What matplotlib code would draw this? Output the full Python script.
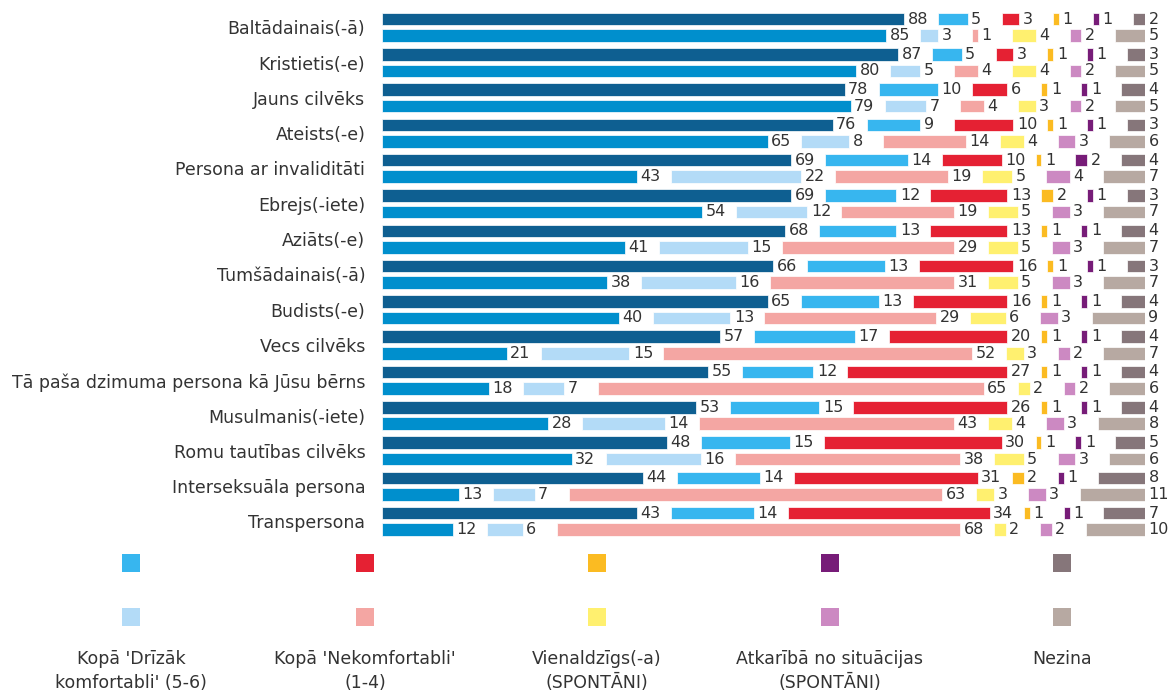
import matplotlib
matplotlib.use("Agg")
import matplotlib.pyplot as plt
from matplotlib.patches import Rectangle
import numpy as np

plt.rcParams["font.family"] = ["DejaVu Sans"]

CATEGORIES = [
    "Baltādainais(-ā)",
    "Kristietis(-e)",
    "Jauns cilvēks",
    "Ateists(-e)",
    "Persona ar invaliditāti",
    "Ebrejs(-iete)",
    "Aziāts(-e)",
    "Tumšādainais(-ā)",
    "Budists(-e)",
    "Vecs cilvēks",
    "Tā paša dzimuma persona kā Jūsu bērns",
    "Musulmanis(-iete)",
    "Romu tautības cilvēks",
    "Interseksuāla persona",
    "Transpersona",
]

# upper bar of each pair
UP_COMFORT = [88, 87, 78, 76, 69, 69, 68, 66, 65, 57, 55, 53, 48, 44, 43]
UP_RATHER = [5, 5, 10, 9, 14, 12, 13, 13, 13, 17, 12, 15, 15, 14, 14]
UP_UNCOMF = [3, 3, 6, 10, 10, 13, 13, 16, 16, 20, 27, 26, 30, 31, 34]
UP_INDIFF = [1, 1, 1, 1, 1, 2, 1, 1, 1, 1, 1, 1, 1, 2, 1]
UP_DEPENDS = [1, 1, 1, 1, 2, 1, 1, 1, 1, 1, 1, 1, 1, 1, 1]
UP_DK = [2, 3, 4, 3, 4, 3, 4, 3, 4, 4, 4, 4, 5, 8, 7]

# lower bar of each pair
LO_COMFORT = [85, 80, 79, 65, 43, 54, 41, 38, 40, 21, 18, 28, 32, 13, 12]
LO_RATHER = [3, 5, 7, 8, 22, 12, 15, 16, 13, 15, 7, 14, 16, 7, 6]
LO_UNCOMF = [1, 4, 4, 14, 19, 19, 29, 31, 29, 52, 65, 43, 38, 63, 68]
LO_INDIFF = [4, 4, 3, 4, 5, 5, 5, 5, 6, 3, 2, 4, 5, 3, 2]
LO_DEPENDS = [2, 2, 2, 3, 4, 3, 3, 3, 3, 2, 2, 3, 3, 3, 2]
LO_DK = [5, 5, 5, 6, 7, 7, 7, 7, 9, 7, 6, 8, 6, 11, 10]

UP_COLORS = ["#0E5F91", "#37B6EF", "#E52133", "#FBBB22", "#771C78", "#86767A"]
LO_COLORS = ["#008FCD", "#B3DBF7", "#F4A6A3", "#FFF06F", "#CC89C2", "#B7A9A2"]

LEGEND_LABELS = [
    "Kopā 'Drīzāk\nkomfortabli' (5-6)",
    "Kopā 'Nekomfortabli'\n(1-4)",
    "Vienaldzīgs(-a)\n(SPONTĀNI)",
    "Atkarībā no situācijas\n(SPONTĀNI)",
    "Nezina",
]

TEXT_COLOR = "#333333"
GAP = 5.73
W, H = 1168, 695


def draw_stack(ax, ypos, series, colors):
    left = np.zeros(len(ypos))
    for values, color in zip(series, colors):
        values = np.array(values, dtype=float)
        ax.barh(ypos, values, left=left, height=12.6, color=color,
                edgecolor="white", linewidth=0.5)
        for y, l, v in zip(ypos, left, values):
            ax.annotate(f"{int(v)}", xy=(l + v, y), xytext=(2.5, 0),
                        textcoords="offset points", ha="left", va="center",
                        fontsize=11.5, color=TEXT_COLOR, annotation_clip=False)
        left = left + values + GAP


def main():
    fig = plt.figure(figsize=(W / 100, H / 100), dpi=100)
    ax = fig.add_axes([382 / W, 0, 763 / W, 1])
    ax.set_xlim(0, 100 + 5 * GAP)
    ax.set_ylim(H, 0)

    idx = np.arange(len(CATEGORIES))
    y_up = 19 + 35.3 * idx
    y_lo = y_up + 16.5

    draw_stack(ax, y_up,
               [UP_COMFORT, UP_RATHER, UP_UNCOMF, UP_INDIFF, UP_DEPENDS, UP_DK],
               UP_COLORS)
    draw_stack(ax, y_lo,
               [LO_COMFORT, LO_RATHER, LO_UNCOMF, LO_INDIFF, LO_DEPENDS, LO_DK],
               LO_COLORS)

    ax.set_yticks((y_up + y_lo) / 2)
    ax.set_yticklabels(CATEGORIES, fontsize=12.5, color=TEXT_COLOR)
    ax.tick_params(axis="y", length=0, pad=12)
    ax.set_xticks([])
    for side in ax.spines.values():
        side.set_visible(False)

    # legend: two rows of swatches, labels below
    centers = [131, 365, 597, 830, 1062]
    for cx, cu, cl, lab in zip(centers, UP_COLORS[1:], LO_COLORS[1:], LEGEND_LABELS):
        for cy, c in ((563, cu), (617, cl)):
            fig.add_artist(Rectangle(((cx - 9) / W, 1 - (cy + 9) / H), 18 / W, 18 / H,
                                     transform=fig.transFigure, color=c,
                                     linewidth=0))
        fig.text(cx / W, 1 - 650 / H, lab, ha="center", va="top",
                 fontsize=12.5, color=TEXT_COLOR, linespacing=1.45)

    fig.savefig("out.png", dpi=100)
    plt.close(fig)


if __name__ == "__main__":
    main()
